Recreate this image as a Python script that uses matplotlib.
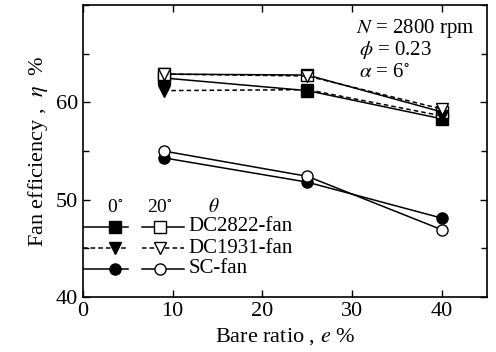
import matplotlib
matplotlib.use('Agg')
import matplotlib.pyplot as plt
from matplotlib.ticker import MultipleLocator

plt.rcParams['font.family'] = ['Liberation Serif', 'DejaVu Serif']
plt.rcParams['mathtext.fontset'] = 'stix'

bare_ratio = [9, 25, 40]
dc2822_0 = [62.5, 61.2, 58.3]
dc2822_20 = [62.9, 62.8, 59.0]
dc1931_0 = [61.2, 61.3, 58.6]
dc1931_20 = [62.9, 62.7, 59.3]
sc_0 = [54.3, 51.8, 48.1]
sc_20 = [55.0, 52.4, 46.9]

series = [
    ('DC2822-fan', dc2822_0, dc2822_20, 's', 's', '-'),
    ('DC1931-fan', dc1931_0, dc1931_20, 'v', 'v', '--'),
    ('SC-fan', sc_0, sc_20, 'o', 'o', '-'),
]

fig = plt.figure(figsize=(4.96, 3.52), dpi=100)
ax = fig.add_axes([0.167, 0.156, 0.815, 0.830])

for name, y0, y20, m0, m20, ls in series:
    d = (3, 2) if ls == '--' else (None, None)
    ax.plot(bare_ratio, y0, color='k', ls=ls, lw=1.1, marker=m0,
            ms=8, mfc='k', mec='k', dashes=d)
    ax.plot(bare_ratio, y20, color='k', ls=ls, lw=1.1, marker=m20,
            ms=8, mfc='white', mec='k', dashes=d)

ax.set_xlim(0, 45)
ax.set_ylim(40, 70)
ax.xaxis.set_major_locator(MultipleLocator(10))
ax.yaxis.set_major_locator(MultipleLocator(10))
ax.yaxis.set_minor_locator(MultipleLocator(5))
ax.tick_params(which='both', direction='in', top=True, right=True,
               labelsize=16, width=1)
ax.tick_params(which='major', length=5)
ax.tick_params(which='minor', length=4)
ax.set_xticks([0, 10, 20, 30, 40])
ax.set_yticks([40, 50, 60])
for s in ax.spines.values():
    s.set_linewidth(1.2)

ax.set_xlabel('Bare ratio , $\\mathit{e}$ %', fontsize=16)
ax.set_ylabel('Fan efficiency ,  $\\mathit{\\eta}$  %', fontsize=16)

# annotation of conditions
ax.text(0.675, 0.905, '$\\mathit{N}$ = 2800 rpm', transform=ax.transAxes, fontsize=15)
ax.text(0.683, 0.83, '$\\mathit{\\phi}$ = 0.23', transform=ax.transAxes, fontsize=15)
ax.text(0.683, 0.755, '$\\mathit{\\alpha}$ = 6$^{\\circ}$', transform=ax.transAxes, fontsize=15)

# hand-made legend
ax.text(3.6, 48.7, '0$^{\\circ}$', fontsize=14, ha='center')
ax.text(8.6, 48.7, '20$^{\\circ}$', fontsize=14, ha='center')
ax.text(14.6, 48.7, '$\\mathit{\\theta}$', fontsize=14, ha='center')
rows = [47.2, 45.0, 42.9]
for (name, y0, y20, m0, m20, ls), yr in zip(series, rows):
    d = (3, 2) if ls == '--' else (None, None)
    ax.plot([0, 5], [yr, yr], color='k', ls=ls, lw=1.1, dashes=d)
    ax.plot([3.6], [yr], 'k', marker=m0, ms=8, mfc='k', mec='k')
    ax.plot([6.6, 11.3], [yr, yr], color='k', ls=ls, lw=1.1, dashes=d)
    ax.plot([8.6], [yr], 'k', marker=m20, ms=8, mfc='white', mec='k')
    ax.text(11.8, yr, name, fontsize=15, va='center')

fig.savefig('out.png', dpi=100)
